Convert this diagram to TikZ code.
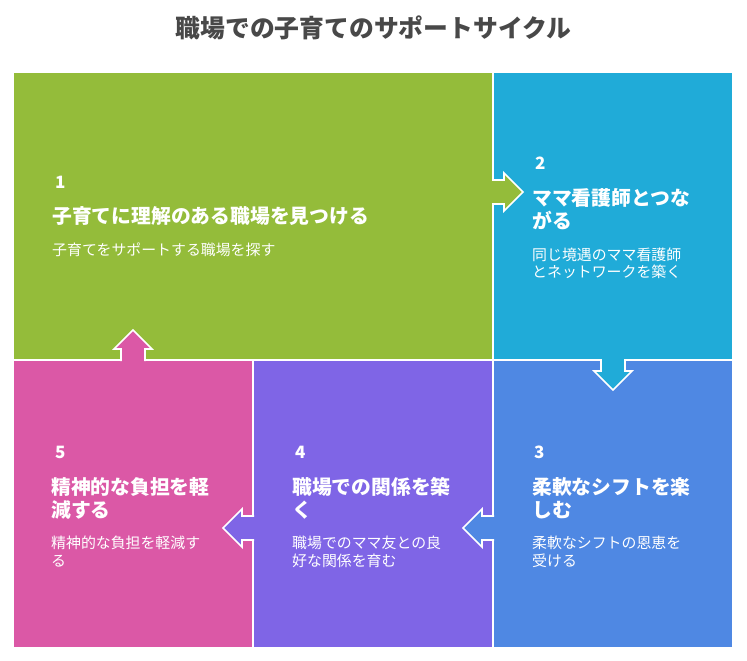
\documentclass[tikz,border=0pt]{standalone}
\usepackage{fontspec}
\setmainfont{Noto Sans CJK JP}
\definecolor{cgreen}{HTML}{94BC3A}
\definecolor{cblue}{HTML}{20ABD8}
\definecolor{croyal}{HTML}{4F88E3}
\definecolor{cviolet}{HTML}{7F65E6}
\definecolor{cpink}{HTML}{DB58A6}
\definecolor{ctitle}{HTML}{484848}
\tikzset{
  panel/.style={draw=none, inner sep=0pt, outer sep=0pt, anchor=north west},
  numtxt/.style={text=white, font=\fontsize{17}{20}\selectfont\bfseries, anchor=west, inner sep=0pt},
  headtxt/.style={text=white, font=\fontsize{19.8}{23.5}\selectfont\bfseries, anchor=north west, align=left, inner sep=0pt},
  subtxt/.style={text=white, font=\fontsize{14.9}{17.5}\selectfont, anchor=north west, align=left, inner sep=0pt},
  pics/barrow/.style={code={
    \fill[#1] (0,-12) -- (12,-12) -- (12,-19) -- (31,0) -- (12,19) -- (12,12) -- (0,12) -- cycle;
    \draw[white, line width=1.6pt, line join=miter] (0,-12) -- (12,-12) -- (12,-19) -- (31,0) -- (12,19) -- (12,12) -- (0,12);
  }}
}
\begin{document}
\begin{tikzpicture}[x=1pt,y=-1pt]
\useasboundingbox[fill=white] (0,0) rectangle (747,661);
\node[text=ctitle, font=\fontsize{24.8}{28}\selectfont\bfseries] (title) at (373.5,28) {職場での子育てのサポートサイクル};
% panels
\node[panel, fill=cgreen, minimum width=478pt, minimum height=286pt] (p1) at (14,73) {};
\node[panel, fill=cblue, minimum width=238pt, minimum height=286pt] (p2) at (494,73) {};
\node[panel, fill=croyal, minimum width=238pt, minimum height=286pt] (p3) at (494,361) {};
\node[panel, fill=cviolet, minimum width=238pt, minimum height=286pt] (p4) at (254,361) {};
\node[panel, fill=cpink, minimum width=238pt, minimum height=286pt] (p5) at (14,361) {};
% arrows
\pic at (492,192) {barrow=cgreen};
\pic[rotate=-90] at (613,359) {barrow=cblue};
\pic[rotate=180] at (494,528) {barrow=croyal};
\pic[rotate=180] at (254,528) {barrow=cviolet};
\pic[rotate=90] at (133,361) {barrow=cpink};
% box 1
\node[numtxt] (n1) at (55,182) {1};
\node[headtxt] (h1) at (52,206) {子育てに理解のある職場を見つける};
\node[subtxt] (s1) at (52,242.5) {子育てをサポートする職場を探す};
% box 2
\node[numtxt] (n2) at (535,163) {2};
\node[headtxt] (h2) at (532,188) {ママ看護師とつな\\がる};
\node[subtxt] (s2) at (532,247.5) {同じ境遇のママ看護師\\とネットワークを築く};
% box 3
\node[numtxt] (n3) at (534,452) {3};
\node[headtxt] (h3) at (532,477) {柔軟なシフトを楽\\しむ};
\node[subtxt] (s3) at (532,536) {柔軟なシフトの恩恵を\\受ける};
% box 4
\node[numtxt] (n4) at (295,452) {4};
\node[headtxt] (h4) at (292,477) {職場での関係を築\\く};
\node[subtxt] (s4) at (292,536) {職場でのママ友との良\\好な関係を育む};
% box 5
\node[numtxt] (n5) at (55,452) {5};
\node[headtxt] (h5) at (51,477) {精神的な負担を軽\\減する};
\node[subtxt] (s5) at (51,536) {精神的な負担を軽減す\\る};
\end{tikzpicture}
\end{document}
